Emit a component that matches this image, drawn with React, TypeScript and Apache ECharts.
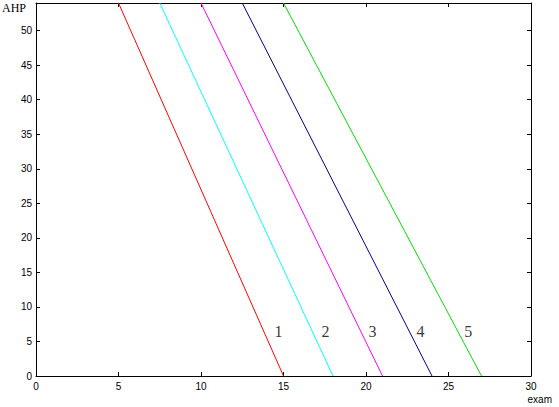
import React, { useEffect, useRef } from "react";
import * as echarts from "echarts";

const yTop = 54;
const topX = [5, 7.5, 10, 12.5, 15];
const bottomX = [15, 18, 21, 24, 27];
const lineColors = ["#ff0000", "#00ffff", "#ff00ff", "#00008b", "#00e000"];
const labelNames = ["1", "2", "3", "4", "5"];
const labelX = [14.7, 17.55, 20.4, 23.3, 26.2];
const labelY = [6.4, 6.4, 6.4, 6.4, 6.4];

export default function App() {
  const ref = useRef<HTMLDivElement>(null);
  useEffect(() => {
    const chart = echarts.init(ref.current!, null, { renderer: "svg" });
    const axisLine = { show: true, onZero: false, lineStyle: { color: "#000", width: 1 } };
    const tick = { show: true, inside: true, length: 4, lineStyle: { color: "#000" } };
    const lbl = { color: "#000", fontSize: 10, fontFamily: "Liberation Sans" };
    const lineSeries = topX.map((tx, i) => ({
      type: "line",
      data: [
        [tx, yTop],
        [bottomX[i], 0],
      ],
      symbol: "none",
      lineStyle: { color: lineColors[i], width: 1 },
      itemStyle: { color: lineColors[i] },
      silent: true,
    }));
    chart.setOption({
      animation: false,
      backgroundColor: "#fff",
      grid: { left: 36, top: 3, right: 28, bottom: 31 },
      xAxis: [
        {
          type: "value", min: 0, max: 30, interval: 5, position: "bottom",
          axisLine, axisTick: tick, splitLine: { show: false },
          axisLabel: { ...lbl, margin: 5 },
        },
        {
          type: "value", min: 0, max: 30, interval: 5, position: "top",
          axisLine, axisTick: tick, splitLine: { show: false }, axisLabel: { show: false },
        },
      ],
      yAxis: [
        {
          type: "value", min: 0, max: yTop, interval: 5, position: "left",
          axisLine, axisTick: tick, splitLine: { show: false },
          axisLabel: { ...lbl, margin: 4, showMaxLabel: false },
        },
        {
          type: "value", min: 0, max: yTop, interval: 5, position: "right",
          axisLine, axisTick: tick, splitLine: { show: false }, axisLabel: { show: false },
        },
      ],
      series: [
        ...lineSeries,
        {
          type: "scatter",
          symbolSize: 0,
          silent: true,
          data: labelNames.map((n, i) => ({ name: n, value: [labelX[i], labelY[i]] })),
          label: {
            show: true,
            position: "inside",
            formatter: (p: any) => p.name,
            color: "#000",
            fontSize: 16,
            fontFamily: "Liberation Serif",
          },
        },
      ],
      graphic: [
        {
          type: "text", left: 2, top: 2,
          style: { text: "AHP", fill: "#000", font: "12px 'Liberation Serif'" },
        },
        {
          type: "text", right: 7, top: 394,
          style: { text: "exam", fill: "#000", font: "10px 'Liberation Sans'" },
        },
      ],
    });
    return () => chart.dispose();
  }, []);
  return (
    <div
      ref={ref}
      style={{ position: "absolute", left: 0, top: 0, width: 559, height: 407 }}
    />
  );
}
